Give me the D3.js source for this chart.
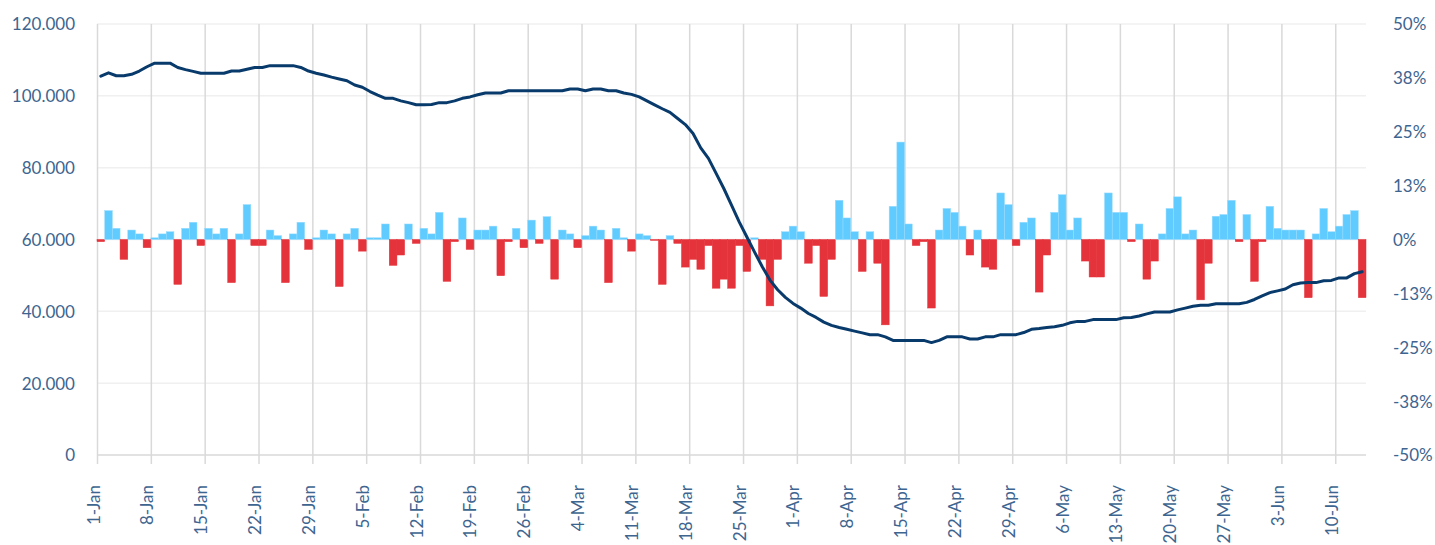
<!DOCTYPE html>
<html>
<head>
<meta charset="utf-8">
<script src="https://cdn.jsdelivr.net/npm/d3@7"></script>
<style>
  body { margin: 0; background: #fff; }
  text { font-family: Lato, "Open Sans", sans-serif; }
</style>
</head>
<body>
<div id="chart"></div>
<script>
// Daily totals (line, left axis) and daily % change (bars, right axis), 1 Jan - 13 Jun 2020

var startDate = "2020-01-01";

var totals = [
  105500, 106400, 105600, 105600, 106000, 106900, 108100, 109100, 109100, 109100,
  107900, 107300, 106800, 106300, 106300, 106300, 106300, 106900, 106900, 107400,
  107900, 107900, 108400, 108400, 108400, 108400, 107900, 106900, 106300, 105800,
  105200, 104700, 104200, 103000, 102400, 101200, 100200, 99300, 99300, 98600,
  98100, 97500, 97500, 97600, 98100, 98100, 98600, 99300, 99700, 100300,
  100800, 100800, 100800, 101400, 101400, 101400, 101400, 101400, 101400, 101400,
  101400, 101900, 101900, 101400, 101900, 101900, 101400, 101400, 100800, 100400,
  99700, 98600, 97500, 96400, 95400, 93700, 92000, 89500, 85500, 82600,
  78400, 74200, 69600, 64900, 60700, 56500, 52400, 48700, 46000, 43900,
  42200, 40900, 39400, 38300, 37000, 36100, 35500, 35000, 34500, 34000,
  33500, 33500, 32900, 31900, 31900, 31900, 31900, 31900, 31300, 31900,
  32900, 32900, 32900, 32300, 32300, 32900, 32900, 33500, 33500, 33500,
  34100, 35000, 35200, 35500, 35700, 36100, 36800, 37200, 37200, 37700,
  37700, 37700, 37700, 38200, 38300, 38700, 39300, 39800, 39800, 39800,
  40400, 40900, 41400, 41700, 41700, 42100, 42100, 42100, 42100, 42500,
  43300, 44300, 45200, 45700, 46200, 47400, 47900, 48000, 48000, 48500,
  48600, 49300, 49300, 50500, 51000
];

var changePct = [
  -0.5, 6.7, 2.6, -4.6, 2.2, 1.3, -1.9, 0.4, 1.3, 1.8,
  -10.4, 2.6, 4.0, -1.4, 2.6, 1.3, 2.6, -10.0, 1.3, 8.1,
  -1.4, -1.4, 2.2, 0.9, -10.0, 1.3, 4.0, -2.3, 0.4, 2.2,
  1.3, -10.9, 1.3, 2.6, -2.7, 0.4, 0.4, 3.6, -6.0, -3.6,
  3.6, -0.9, 2.6, 1.3, 6.3, -9.7, -0.5, 5.0, -2.3, 2.2,
  2.2, 3.1, -8.4, -0.5, 2.6, -1.9, 4.5, -0.9, 5.3, -9.2,
  2.2, 1.3, -1.9, 0.9, 3.1, 2.2, -10.0, 2.6, 0.4, -2.7,
  1.3, 0.9, -0.2, -10.4, 0.9, -0.9, -6.4, -4.6, -6.9, -1.4,
  -11.3, -9.2, -11.3, -1.4, -7.4, 0.4, -4.6, -15.4, -4.6, 1.8,
  3.1, 1.8, -5.5, -1.4, -13.2, -4.6, 9.1, 5.0, 1.8, -7.4,
  1.8, -5.5, -19.8, 7.7, 22.6, 3.6, -1.4, -0.5, -15.9, 2.2,
  7.2, 6.3, 3.1, -3.6, 2.2, -6.4, -6.9, 10.8, 8.1, -1.4,
  4.0, 5.0, -12.2, -3.6, 6.3, 10.4, 2.2, 5.0, -5.0, -8.7,
  -8.7, 10.8, 6.3, 6.3, -0.5, 3.6, -9.2, -5.0, 1.3, 7.2,
  9.9, 1.3, 2.2, -14.0, -5.5, 5.4, 5.8, 9.1, -0.5, 5.8,
  -9.7, -0.5, 7.7, 2.6, 2.2, 2.2, 2.2, -13.5, 1.3, 7.2,
  1.8, 3.1, 5.8, 6.7, -13.5
];

var xTickLabels = [
  "1-Jan", "8-Jan", "15-Jan", "22-Jan", "29-Jan", "5-Feb", "12-Feb", "19-Feb",
  "26-Feb", "4-Mar", "11-Mar", "18-Mar", "25-Mar", "1-Apr", "8-Apr", "15-Apr",
  "22-Apr", "29-Apr", "6-May", "13-May", "20-May", "27-May", "3-Jun", "10-Jun"
];

var leftTicks = [0, 20000, 40000, 60000, 80000, 100000, 120000];
var rightTicks = [-0.5, -0.375, -0.25, -0.125, 0, 0.125, 0.25, 0.375, 0.5];

var width = 1435,
    height = 545,
    margin = { left: 97, right: 69, top: 24, bottom: 90 };

var textColor = "#3d6590",
    blue = "#5fcbff",
    red = "#e5333b",
    lineColor = "#083a6b";

var locale = d3.formatLocale({
  decimal: ",",
  thousands: ".",
  grouping: [3],
  currency: ["", ""],
  minus: "-"
});
var fmtLeft = locale.format(",d"),
    fmtRight = locale.format(".0%");

var day0 = d3.utcParse("%Y-%m-%d")(startDate);
var dates = totals.map(function(d, i) { return d3.utcDay.offset(day0, i); });
var data = dates.map(function(d, i) {
  return { date: d, total: totals[i], change: changePct[i] / 100 };
});

var x = d3.scaleUtc()
  .domain([day0, d3.utcDay.offset(day0, dates.length)])
  .range([margin.left, width - margin.right]);

var yLeft = d3.scaleLinear()
  .domain([0, 120000])
  .range([height - margin.bottom, margin.top]);

var yRight = d3.scaleLinear()
  .domain([-0.5, 0.5])
  .range([height - margin.bottom, margin.top]);

var bandW = x(dates[1]) - x(dates[0]);

var svg = d3.select("#chart").append("svg")
  .attr("width", width)
  .attr("height", height);

// horizontal gridlines
svg.append("g")
  .selectAll("line")
  .data(leftTicks)
  .enter().append("line")
  .attr("x1", margin.left)
  .attr("x2", width - margin.right)
  .attr("y1", function(d) { return yLeft(d); })
  .attr("y2", function(d) { return yLeft(d); })
  .attr("stroke", function(d) { return d === 0 ? "#d9d9d9" : "#f0f0f0"; })
  .attr("stroke-width", 1.5);

// x axis with weekly gridlines
var tickDates = xTickLabels.map(function(l) { return d3.utcParse("%d-%b-%Y")(l + "-2020"); });

var xAxis = svg.append("g")
  .attr("transform", "translate(0," + (height - margin.bottom) + ")")
  .call(d3.axisBottom(x)
    .tickValues(tickDates)
    .tickSize(9)
    .tickFormat(function(d, i) { return xTickLabels[i]; }));

xAxis.select(".domain").remove();
xAxis.selectAll(".tick line")
  .attr("y1", -(height - margin.bottom - margin.top))
  .attr("stroke", "#d9d9d9")
  .attr("stroke-width", 1.5);
xAxis.selectAll(".tick text")
  .attr("fill", textColor)
  .attr("font-size", 17)
  .attr("transform", "rotate(-90)")
  .attr("text-anchor", "end")
  .attr("x", -30)
  .attr("y", 0)
  .attr("dy", "0.12em");

// bars
svg.append("g")
  .selectAll("rect")
  .data(data)
  .enter().append("rect")
  .attr("x", function(d) { return x(d.date); })
  .attr("width", bandW)
  .attr("y", function(d) { return Math.min(yRight(d.change), yRight(0)); })
  .attr("height", function(d) { return Math.abs(yRight(d.change) - yRight(0)); })
  .attr("fill", function(d) { return d.change >= 0 ? blue : red; })
  .attr("stroke", function(d) { return d.change >= 0 ? "#9adcff" : red; })
  .attr("stroke-width", 0.5);

// line
var line = d3.line()
  .x(function(d) { return x(d.date) + bandW / 2; })
  .y(function(d) { return yLeft(d.total); });

svg.append("path")
  .datum(data)
  .attr("d", line)
  .attr("fill", "none")
  .attr("stroke", lineColor)
  .attr("stroke-width", 3)
  .attr("stroke-linejoin", "round")
  .attr("stroke-linecap", "round");

// left axis
var leftAxis = svg.append("g")
  .attr("transform", "translate(75,0)")
  .call(d3.axisLeft(yLeft).tickValues(leftTicks).tickSize(0).tickFormat(fmtLeft));
leftAxis.select(".domain").remove();
leftAxis.selectAll("text")
  .attr("fill", textColor)
  .attr("font-size", 17)
  .attr("x", 0)
  .attr("dy", "0.35em");

// right axis
var rightAxis = svg.append("g")
  .attr("transform", "translate(1393,0)")
  .call(d3.axisRight(yRight).tickValues(rightTicks).tickSize(0).tickFormat(fmtRight));
rightAxis.select(".domain").remove();
rightAxis.selectAll("text")
  .attr("fill", textColor)
  .attr("font-size", 17)
  .attr("x", 0)
  .attr("dy", "0.35em");
</script>
</body>
</html>
